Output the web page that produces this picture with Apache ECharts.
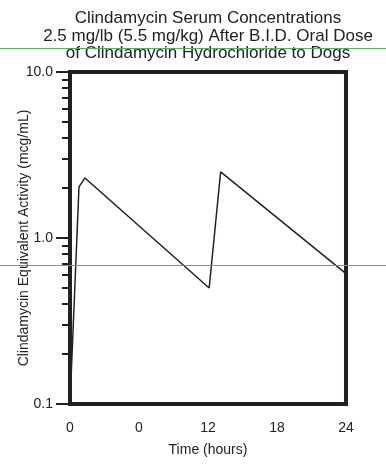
<!DOCTYPE html>
<html>
<head>
<meta charset="utf-8">
<script src="https://cdn.jsdelivr.net/npm/echarts@6/dist/echarts.min.js"></script>
<style>html,body{margin:0;padding:0;background:#fff}#c{width:386px;height:468px}</style>
</head>
<body>
<div id="c"></div>
<script>
var times = [0, 0.78, 1.3, 12.1, 13.1, 24];
var concentrations = [0.1, 2.03, 2.3, 0.5, 2.5, 0.61];
var xTickLabels = ["0", "0", "12", "18", "24"];
var yMajorTicks = [0.1, 1, 10];
var yMajorLabels = ["0.1", "1.0", "10.0"];
var yMinorTicks = [0.2,0.3,0.4,0.5,0.6,0.7,0.8,0.9,2,3,4,5,6,7,8,9];
var titleLines = ["Clindamycin Serum Concentrations", "2.5 mg/lb (5.5 mg/kg) After B.I.D. Oral Dose", "of Clindamycin Hydrochloride to Dogs"];

var FONT = '"Liberation Sans", Arial, sans-serif';
var chart = echarts.init(document.getElementById('c'), null, {renderer: 'canvas'});
var data = times.map(function (t, i) { return [t, concentrations[i]]; });

chart.setOption({
  animation: false,
  title: {
    text: titleLines.join('\n'),
    left: 203, top: 5, textAlign: 'center',
    textStyle: {fontFamily: FONT, fontSize: 17, fontWeight: 'normal', color: '#222', lineHeight: 17.5}
  },
  grid: {left: 70, right: 40, top: 72, bottom: 64, show: true, borderColor: '#231f20', borderWidth: 4,
    containLabel: false, outerBoundsMode: 'none'},
  xAxis: {
    type: 'value', min: 0, max: 24, interval: 6,
    name: 'Time (hours)', nameLocation: 'middle', nameGap: 39, nameMoveOverlap: false,
    nameTextStyle: {fontFamily: FONT, fontSize: 14, color: '#222'},
    axisLine: {show: true, lineStyle: {color: '#231f20', width: 4}},
    axisTick: {show: false},
    splitLine: {show: false},
    axisLabel: {margin: 17, fontFamily: FONT, fontSize: 14, color: '#222',
      formatter: function (v) { return xTickLabels[Math.round(v / 6)]; }}
  },
  yAxis: [{
    type: 'log', min: 0.1, max: 10, logBase: 10,
    name: 'Clindamycin Equivalent Activity (mcg/mL)', nameLocation: 'middle', nameGap: 39, nameMoveOverlap: false,
    nameTextStyle: {fontFamily: FONT, fontSize: 14, color: '#222'},
    axisLine: {show: true, lineStyle: {color: '#231f20', width: 4}},
    axisTick: {show: true, length: 14, lineStyle: {color: '#231f20', width: 2}, customValues: yMajorTicks},
    splitLine: {show: false},
    axisLabel: {margin: 17, fontFamily: FONT, fontSize: 14, color: '#222', customValues: yMajorTicks,
      formatter: function (v) { var i = yMajorTicks.findIndex(function (m) { return Math.abs(m - v) < 1e-9; }); return i >= 0 ? yMajorLabels[i] : ''; }}
  }, {
    type: 'log', min: 0.1, max: 10, logBase: 10, position: 'left',
    axisLine: {show: false},
    axisTick: {show: true, length: 8, lineStyle: {color: '#231f20', width: 2}, customValues: yMinorTicks},
    axisLabel: {show: false},
    splitLine: {show: false}
  }],
  graphic: [
    {type: 'line', shape: {x1: 0, y1: 48.5, x2: 386, y2: 48.5}, style: {stroke: '#4cb45e', lineWidth: 1}, z: 100},
    {type: 'line', shape: {x1: 0, y1: 265.5, x2: 386, y2: 265.5}, style: {stroke: '#4cb45e', lineWidth: 1}, z: 100}
  ],
  series: [{
    type: 'line', data: data, showSymbol: false, symbol: 'none',
    lineStyle: {color: '#231f20', width: 1.5}, z: 1
  }]
});
</script>
</body>
</html>
